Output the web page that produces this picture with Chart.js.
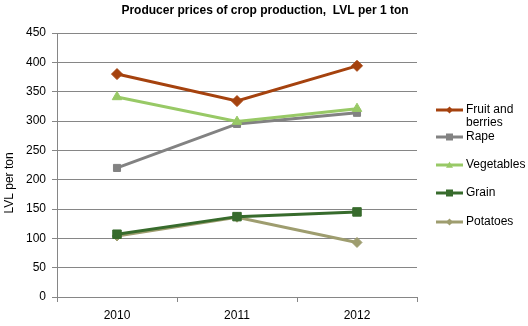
<!DOCTYPE html>
<html>
<head>
<meta charset="utf-8">
<script src="https://cdn.jsdelivr.net/npm/chart.js@4/dist/chart.umd.min.js"></script>
<style>
  html, body { margin: 0; padding: 0; background: #fff; }
  #wrap { width: 528px; height: 326px; position: relative; }
</style>
</head>
<body>
<div id="wrap"><canvas id="myChart" width="528" height="326"></canvas></div>
<script>
const years = ["2010", "2011", "2012"];
const fruit = [380, 334, 394];
const rape = [220, 295, 314];
const vegetables = [341, 299, 321];
const grain = [107, 137, 145];
const potatoes = [104, 136, 93];
const yTicks = [0, 50, 100, 150, 200, 250, 300, 350, 400, 450];

const titleText = "Producer prices of crop production,  LVL per 1 ton";
const yTitle = "LVL per ton";
const seriesNames = [["Fruit and", "berries"], ["Rape"], ["Vegetables"], ["Grain"], ["Potatoes"]];
const seriesColors = ["#a5420e", "#828282", "#98c966", "#376b2c", "#9e9d6f"];
const seriesMarkers = ["rectRot", "rect", "triangle", "rect", "rectRot"];
const markerSizes = [5.5, 5, 5.5, 6, 5];

const FONT = "'Liberation Sans', Arial, sans-serif";

function mkSet(i, values) {
  return {
    label: seriesNames[i].join(" "),
    data: values,
    borderColor: seriesColors[i],
    backgroundColor: seriesColors[i],
    borderWidth: 3,
    pointStyle: seriesMarkers[i],
    pointRadius: markerSizes[i],
    pointBorderWidth: 1,
    tension: 0,
  };
}

// title, y title and legend drawn by hand to place them like the original
const sideLegend = {
  id: "sideLegend",
  afterDraw(chart) {
    const ctx = chart.ctx;
    ctx.save();
    ctx.fillStyle = "#000";
    ctx.textBaseline = "middle";
    ctx.textAlign = "center";
    ctx.font = "bold 12px " + FONT;
    ctx.fillText(titleText, 265, 11);

    ctx.save();
    ctx.translate(10, 183);
    ctx.rotate(-Math.PI / 2);
    ctx.font = "12px " + FONT;
    ctx.fillText(yTitle, 0, 0);
    ctx.restore();

    ctx.textAlign = "left";
    ctx.font = "12px " + FONT;
    const rows = [110, 137, 165, 193, 222];
    rows.forEach((y, i) => {
      ctx.strokeStyle = seriesColors[i];
      ctx.lineWidth = 3;
      ctx.beginPath();
      ctx.moveTo(436, y);
      ctx.lineTo(463, y);
      ctx.stroke();
      ctx.fillStyle = seriesColors[i];
      const r = 3.5;
      ctx.beginPath();
      if (seriesMarkers[i] === "rect") {
        ctx.rect(449.5 - r, y - r, 2 * r, 2 * r);
      } else if (seriesMarkers[i] === "rectRot") {
        ctx.moveTo(449.5, y - r);
        ctx.lineTo(449.5 + r, y);
        ctx.lineTo(449.5, y + r);
        ctx.lineTo(449.5 - r, y);
        ctx.closePath();
      } else {
        ctx.moveTo(449.5, y - r);
        ctx.lineTo(449.5 + r, y + r * 0.8);
        ctx.lineTo(449.5 - r, y + r * 0.8);
        ctx.closePath();
      }
      ctx.fill();
      ctx.fillStyle = "#000";
      seriesNames[i].forEach((t, k) => {
        ctx.fillText(t, 466, y + k * 13);
      });
    });
    ctx.restore();
  }
};

const data = {
  labels: years,
  datasets: [
    mkSet(0, fruit),
    mkSet(1, rape),
    mkSet(2, vegetables),
    mkSet(3, grain),
    mkSet(4, potatoes),
  ],
};
data.datasets[2].order = -1;

const config = {
  type: "line",
  data: data,
  options: {
    responsive: false,
    animation: false,
    layout: { padding: { left: 0, right: 111, top: 33, bottom: 0 } },
    plugins: {
      legend: { display: false },
      tooltip: { enabled: false },
      title: { display: false },
    },
    scales: {
      x: {
        offset: true,
        grid: { drawOnChartArea: false, offset: true, tickLength: 5, color: "#868686" },
        border: { color: "#868686" },
        ticks: { color: "#000", padding: 6, font: { family: FONT, size: 12 } },
        afterFit(scale) { scale.height = 29; },
      },
      y: {
        min: 0,
        max: 450,
        afterBuildTicks(scale) { scale.ticks = yTicks.map((v) => ({ value: v })); },
        grid: { color: "#868686", tickLength: 5 },
        border: { color: "#868686" },
        ticks: { color: "#000", padding: 6, font: { family: FONT, size: 12 } },
        afterFit(scale) { scale.width = 57; },
      },
    },
  },
  plugins: [sideLegend],
};

const myChart = new Chart(document.getElementById("myChart"), config);
</script>
</body>
</html>
